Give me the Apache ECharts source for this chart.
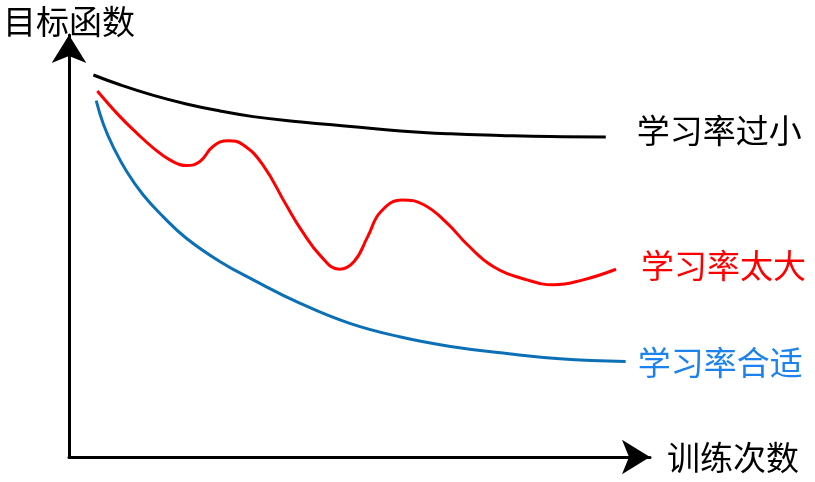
<!DOCTYPE html>
<html><head><meta charset="utf-8">
<script src="https://cdn.jsdelivr.net/npm/echarts@6/dist/echarts.min.js"></script>
<style>html,body{margin:0;padding:0;background:#fff}#c{width:815px;height:482px}</style>
</head><body><div id="c"></div>
<script>
// abstract units: x = training iterations, y = objective value
const smallX = [4.3, 9.0, 14.9, 20.7, 26.6, 32.5, 41.0, 49.7, 58.5, 67.3, 76.1, 84.9, 94.7];
const smallY = [93.6, 91.2, 88.6, 86.5, 84.8, 83.4, 82.1, 81.0, 79.9, 79.2, 78.8, 78.5, 78.4];

const largeX = [5.0, 9.0, 12.0, 14.9, 17.8, 20.7, 23.1, 25.4, 28.1, 30.7, 34.2, 38.3, 41.0, 44.5, 47.7, 50.3, 52.7, 55.0, 58.8, 62.6, 66.7, 70.3, 74.9, 80.8, 85.5, 90.7, 96.5];
const largeY = [89.7, 83.4, 79.3, 75.7, 72.8, 71.4, 72.4, 76.1, 77.5, 76.5, 71.6, 61.8, 55.6, 49.1, 46.0, 47.9, 54.0, 60.1, 63.0, 61.8, 57.3, 52.0, 46.6, 43.4, 42.2, 43.4, 46.0];

const goodX = [4.8, 6.1, 7.9, 10.2, 13.1, 16.6, 20.7, 26.6, 32.5, 40.7, 49.4, 58.5, 67.3, 77.6, 86.6, 98.2];
const goodY = [87.3, 81.4, 75.7, 69.9, 64.2, 58.9, 53.6, 47.9, 43.4, 37.7, 32.8, 29.4, 27.1, 25.3, 24.1, 23.4];

const names = ['学习率过小', '学习率太大', '学习率合适'];
const axisNames = ['训练次数', '目标函数'];

const zip = (a, b) => a.map((v, i) => [v, b[i]]);
const FONT = '"Noto Sans CJK SC", "Noto Sans", sans-serif';

const chart = echarts.init(document.getElementById('c'), null, {renderer: 'canvas'});
function mk(name, data, lineColor, textColor, offset) {
  return {
    name, type: 'line', data, smooth: 0.45, symbol: 'none', animation: false,
    lineStyle: {color: lineColor, width: 3},
    endLabel: {show: true, formatter: '{a}', color: textColor, fontSize: 33,
      fontFamily: FONT, offset: offset}
  };
}
chart.setOption({
  animation: false,
  grid: {left: 67, right: 165, top: 35, bottom: 25},
  xAxis: {
    type: 'value', min: 0, max: 102.5,
    name: axisNames[0], nameLocation: 'end', nameGap: 17,
    nameTextStyle: {fontSize: 33, fontFamily: FONT, color: '#000', padding: [14, 0, 0, 0]},
    axisLine: {show: true, lineStyle: {color: '#000', width: 3}, symbol: ['none', 'arrow'], symbolSize: [26, 28]},
    axisTick: {show: false}, axisLabel: {show: false}, splitLine: {show: false}
  },
  yAxis: {
    type: 'value', min: 0, max: 103.4,
    name: axisNames[1], nameLocation: 'end', nameGap: -3,
    nameTextStyle: {fontSize: 33, fontFamily: FONT, color: '#000', align: 'center'},
    axisLine: {show: true, lineStyle: {color: '#000', width: 3}, symbol: ['none', 'arrow'], symbolSize: [26, 28]},
    axisTick: {show: false}, axisLabel: {show: false}, splitLine: {show: false}
  },
  series: [
    mk(names[0], zip(smallX, smallY), '#000000', '#000000', [23, -7]),
    mk(names[1], zip(largeX, largeY), '#FF0000', '#FF0000', [17, -4]),
    mk(names[2], zip(goodX, goodY), '#0B70B5', '#1C82EE', [4, 1])
  ]
});
</script></body></html>
